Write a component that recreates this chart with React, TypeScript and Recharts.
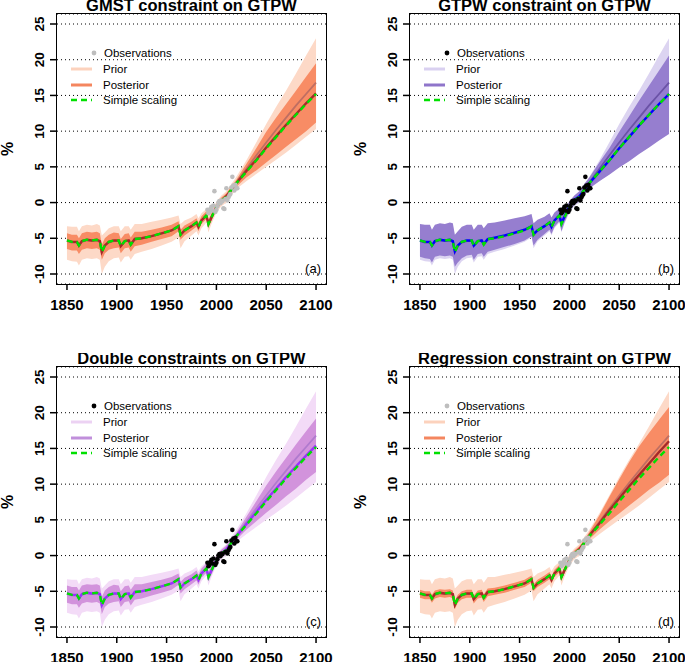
import React from 'react';
import {
  ComposedChart,
  Area,
  Line,
  Scatter,
  XAxis,
  YAxis,
  CartesianGrid,
} from 'recharts';

// sample years of the model curves
const years = [
  1850, 1855, 1860, 1862, 1865, 1870, 1875, 1880, 1883, 1885, 1888, 1892, 1897, 1902, 1904, 1908,
  1912, 1914, 1918, 1925, 1935, 1945, 1955, 1962, 1964, 1968, 1975, 1980, 1982, 1985, 1990, 1992,
  1995, 2000, 2005, 2010, 2015, 2020, 2030, 2040, 2050, 2060, 2070, 2080, 2090, 2100,
];

const simpleScaling = [
  -5.3, -5.5, -5.5, -6.0, -5.4, -5.2, -5.3, -5.2, -5.4, -6.9, -6.0, -5.5, -5.3, -5.3, -6.1, -5.4,
  -5.3, -5.9, -5.1, -5.0, -4.7, -4.3, -3.9, -3.3, -4.5, -3.9, -3.3, -2.8, -3.4, -2.5, -1.8, -3.0,
  -2.1, -0.6, 0.3, 0.8, 1.8, 2.7, 4.3, 5.9, 7.6, 9.2, 10.8, 12.3, 13.8, 15.2,
];

// prior ensemble (same in all panels)
const priorMedian = [
  -5.4, -5.6, -5.6, -6.1, -5.5, -5.3, -5.4, -5.3, -5.5, -7.0, -6.1, -5.6, -5.4, -5.4, -6.1, -5.4,
  -5.4, -5.9, -5.2, -5.0, -4.7, -4.3, -3.9, -3.4, -4.6, -3.9, -3.3, -2.8, -3.4, -2.5, -1.8, -3.0,
  -2.1, -0.6, 0.3, 0.9, 1.9, 2.8, 4.7, 6.6, 8.4, 10.2, 11.9, 13.6, 15.2, 16.8,
];
const priorLow = [
  -8.0, -8.2, -8.3, -8.8, -8.0, -7.8, -7.9, -7.8, -8.0, -10.0, -9.0, -8.2, -7.8, -7.7, -8.4, -7.6,
  -7.5, -8.0, -7.2, -6.9, -6.5, -6.0, -5.5, -4.9, -6.4, -5.4, -4.6, -4.0, -4.6, -3.6, -2.8, -4.2,
  -3.0, -1.4, -0.5, 0.0, 1.0, 1.9, 3.0, 4.0, 5.0, 6.0, 7.0, 8.1, 9.2, 10.3,
];
const priorHigh = [
  -3.3, -3.4, -3.4, -4.0, -3.3, -3.1, -3.2, -3.0, -3.2, -4.6, -4.2, -3.6, -3.3, -3.3, -4.0, -3.3,
  -3.3, -3.8, -3.0, -3.0, -2.7, -2.4, -2.1, -1.8, -3.0, -2.5, -2.1, -1.6, -2.2, -1.5, -0.9, -1.8,
  -1.2, 0.1, 1.0, 1.6, 2.6, 3.6, 5.9, 8.4, 11.0, 13.4, 15.7, 18.1, 20.6, 23.0,
];

// (a) GMST constraint
const postMedA = [
  -5.3, -5.5, -5.5, -6.0, -5.4, -5.2, -5.3, -5.2, -5.4, -6.9, -6.0, -5.5, -5.3, -5.3, -6.1, -5.4,
  -5.3, -5.9, -5.1, -5.0, -4.7, -4.3, -3.9, -3.3, -4.5, -3.9, -3.3, -2.8, -3.4, -2.5, -1.8, -3.0,
  -2.1, -0.6, 0.3, 0.9, 1.8, 2.7, 4.4, 6.0, 7.7, 9.3, 10.9, 12.4, 13.9, 15.3,
];
const postLowA = [
  -6.5, -6.7, -6.7, -7.2, -6.6, -6.4, -6.5, -6.4, -6.6, -8.0, -7.1, -6.6, -6.4, -6.3, -7.1, -6.4,
  -6.3, -6.9, -6.1, -5.9, -5.5, -5.1, -4.7, -4.0, -5.2, -4.6, -3.9, -3.4, -4.0, -3.0, -2.3, -3.5,
  -2.6, -1.0, -0.1, 0.4, 1.4, 2.2, 3.5, 4.5, 5.6, 6.7, 7.8, 8.9, 10.0, 11.2,
];
const postHighA = [
  -4.3, -4.5, -4.5, -5.0, -4.3, -4.1, -4.2, -4.1, -4.3, -5.9, -5.0, -4.5, -4.2, -4.3, -5.1, -4.4,
  -4.3, -4.9, -4.1, -4.1, -3.8, -3.5, -3.1, -2.6, -3.8, -3.2, -2.7, -2.2, -2.8, -1.9, -1.2, -2.4,
  -1.5, -0.2, 0.7, 1.3, 2.3, 3.2, 5.4, 7.6, 9.9, 11.9, 13.8, 15.7, 17.6, 19.5,
];

// (b) GTPW constraint
const postMedB = [
  -5.3, -5.5, -5.5, -6.0, -5.4, -5.2, -5.3, -5.2, -5.4, -6.8, -6.0, -5.5, -5.3, -5.3, -6.0, -5.4,
  -5.3, -5.8, -5.1, -4.9, -4.6, -4.2, -3.8, -3.3, -4.4, -3.9, -3.3, -2.8, -3.4, -2.5, -1.8, -2.9,
  -2.0, -0.5, 0.4, 0.9, 1.8, 2.7, 4.3, 5.9, 7.6, 9.2, 10.8, 12.3, 13.8, 15.2,
];
const postLowB = [
  -7.6, -7.8, -7.9, -8.4, -7.6, -7.4, -7.5, -7.4, -7.6, -9.0, -8.4, -7.8, -7.4, -7.3, -8.0, -7.2,
  -7.1, -7.6, -6.9, -6.6, -6.2, -5.8, -5.3, -4.7, -6.0, -5.2, -4.4, -3.8, -4.4, -3.4, -2.6, -4.0,
  -2.8, -1.2, -0.3, 0.2, 1.1, 2.0, 3.0, 3.9, 4.9, 5.8, 6.8, 7.7, 8.7, 9.6,
];
const postHighB = [
  -3.0, -3.1, -3.1, -3.8, -3.1, -2.9, -3.0, -2.8, -2.9, -4.5, -4.0, -3.4, -3.1, -3.1, -3.8, -3.1,
  -3.1, -3.6, -2.9, -2.8, -2.5, -2.2, -1.9, -1.6, -2.9, -2.4, -2.0, -1.5, -2.1, -1.4, -0.8, -1.7,
  -1.1, 0.2, 1.0, 1.6, 2.6, 3.5, 5.6, 7.6, 9.9, 12.1, 14.3, 16.4, 18.5, 20.6,
];

// (c) double constraints
const postMedC = [
  -5.3, -5.5, -5.5, -6.0, -5.4, -5.2, -5.3, -5.2, -5.4, -6.9, -6.0, -5.5, -5.3, -5.3, -6.1, -5.4,
  -5.3, -5.9, -5.1, -5.0, -4.7, -4.3, -3.9, -3.3, -4.5, -3.9, -3.3, -2.8, -3.4, -2.5, -1.8, -3.0,
  -2.1, -0.6, 0.3, 0.9, 1.8, 2.7, 4.4, 6.1, 7.8, 9.4, 11.0, 12.5, 14.0, 15.4,
];
const postLowC = [
  -6.6, -6.8, -6.8, -7.3, -6.7, -6.5, -6.6, -6.5, -6.7, -8.2, -7.2, -6.7, -6.5, -6.4, -7.2, -6.5,
  -6.4, -7.0, -6.2, -6.0, -5.6, -5.2, -4.8, -4.1, -5.3, -4.7, -4.0, -3.5, -4.1, -3.1, -2.4, -3.6,
  -2.7, -1.1, -0.2, 0.4, 1.3, 2.2, 3.6, 4.8, 6.0, 7.1, 8.3, 9.4, 10.6, 11.7,
];
const postHighC = [
  -4.2, -4.4, -4.4, -4.9, -4.2, -4.0, -4.1, -4.0, -4.2, -5.8, -4.9, -4.4, -4.1, -4.2, -5.0, -4.3,
  -4.2, -4.8, -4.0, -4.0, -3.7, -3.4, -3.0, -2.5, -3.7, -3.1, -2.6, -2.1, -2.7, -1.8, -1.1, -2.3,
  -1.4, -0.1, 0.8, 1.4, 2.3, 3.2, 5.4, 7.6, 9.8, 11.8, 13.7, 15.6, 17.4, 19.2,
];

// (d) regression constraint
const postMedD = [
  -5.3, -5.5, -5.5, -6.0, -5.4, -5.2, -5.3, -5.2, -5.4, -6.9, -6.0, -5.5, -5.3, -5.3, -6.1, -5.4,
  -5.3, -5.9, -5.1, -5.0, -4.7, -4.3, -3.9, -3.3, -4.5, -3.9, -3.3, -2.8, -3.4, -2.5, -1.8, -3.0,
  -2.1, -0.6, 0.3, 0.9, 1.8, 2.8, 4.5, 6.3, 8.0, 9.7, 11.3, 12.9, 14.5, 16.0,
];
const postLowD = [
  -5.9, -6.1, -6.1, -6.6, -6.0, -5.8, -5.9, -5.8, -6.0, -7.5, -6.6, -6.1, -5.9, -5.9, -6.7, -6.0,
  -5.9, -6.5, -5.7, -5.5, -5.2, -4.8, -4.4, -3.8, -5.0, -4.4, -3.8, -3.3, -3.9, -3.0, -2.3, -3.5,
  -2.5, -1.0, -0.1, 0.5, 1.4, 2.3, 3.6, 4.8, 5.9, 7.0, 8.1, 9.2, 10.2, 11.3,
];
const postHighD = [
  -4.8, -5.0, -5.0, -5.5, -4.9, -4.7, -4.8, -4.7, -4.9, -6.3, -5.5, -5.0, -4.8, -4.8, -5.6, -4.9,
  -4.8, -5.4, -4.6, -4.5, -4.2, -3.8, -3.4, -2.8, -4.0, -3.4, -2.8, -2.3, -2.9, -2.0, -1.3, -2.5,
  -1.6, -0.2, 0.7, 1.3, 2.2, 3.3, 5.6, 8.2, 10.7, 13.1, 15.3, 17.2, 19.0, 20.8,
];

// observations
const obsYears = [
  1991, 1992, 1993, 1994, 1995, 1996, 1997, 1998, 1999, 2000, 2001, 2002, 2003, 2004, 2005, 2006,
  2007, 2008, 2009, 2010, 2011, 2012, 2013, 2014, 2015, 2016, 2017, 2018, 2019, 2020, 2021,
];
const obsValues = [
  -1.0, -1.5, -1.3, -0.9, -0.6, -1.1, -0.4, 1.6, -1.3, -1.0, -0.5, 0.0, 0.2, -0.1, 0.3, 0.2,
  -0.8, -0.9, 0.5, 2.0, 0.3, 0.7, 1.0, 1.2, 2.1, 3.6, 2.4, 1.7, 2.5, 2.0, 2.0,
];

const xTicks = [1850, 1900, 1950, 2000, 2050, 2100];
const yTicks = [-10, -5, 0, 5, 10, 15, 20, 25];
const legendLabels = ['Observations', 'Prior', 'Posterior', 'Simple scaling'];

const FONT = '"Liberation Sans", Arial, Helvetica, sans-serif';
const GREEN = '#00e000';

// panel geometry
const W = 342;
const H = 330;
const PL = 57;
const PT = 14;
const PR = 326;
const PB = 284;

const panels = [
  {
    title: 'GMST constraint on GTPW', tag: '(a)', left: 0, top: 0,
    postMed: postMedA, postLow: postLowA, postHigh: postHighA,
    priorFill: '#fdd9c7', postFill: '#f88c65', priorLine: '#bf6e62', postLine: '#a52a2a',
    legPrior: '#fcd2bd', legPost: '#f4865f', obs: '#bebebe',
  },
  {
    title: 'GTPW constraint on GTPW', tag: '(b)', left: 353, top: 0,
    postMed: postMedB, postLow: postLowB, postHigh: postHighB,
    priorFill: '#dcd4f1', postFill: '#967ecf', priorLine: '#6a52a6', postLine: '#0000ff',
    legPrior: '#d9d0f0', legPost: '#8f75ca', obs: '#000000',
  },
  {
    title: 'Double constraints on GTPW', tag: '(c)', left: 0, top: 353,
    postMed: postMedC, postLow: postLowC, postHigh: postHighC,
    priorFill: '#f3dbf7', postFill: '#d293dc', priorLine: '#b07ace', postLine: '#9b30ff',
    legPrior: '#ecd2f3', legPost: '#c08fdb', obs: '#000000',
  },
  {
    title: 'Regression constraint on GTPW', tag: '(d)', left: 353, top: 353,
    postMed: postMedD, postLow: postLowD, postHigh: postHighD,
    priorFill: '#fdd9c7', postFill: '#f88c65', priorLine: '#bf6e62', postLine: '#a52a2a',
    legPrior: '#fcd2bd', legPost: '#f4865f', obs: '#bebebe',
  },
];

const XTick = (props: any) => {
  const { x, y, payload } = props;
  return (
    <g>
      <rect x={x - 0.75} y={PB} width={1.5} height={6} fill="#000" />
      <text x={x} y={y} dy={18} textAnchor="middle" fontFamily={FONT} fontWeight="bold" fontSize={15} fill="#000">
        {payload.value}
      </text>
    </g>
  );
};

const YTick = (props: any) => {
  const { x, y, payload } = props;
  return (
    <g>
      <rect x={PL - 7} y={y - 0.75} width={7} height={1.5} fill="#000" />
      <g transform={`translate(${x - 4},${y}) rotate(-90)`}>
        <text x={0} y={0} textAnchor="middle" fontFamily={FONT} fontWeight="bold" fontSize={13.5} fill="#000">
          {payload.value}
        </text>
      </g>
    </g>
  );
};

function Panel({ cfg }: { cfg: any }) {
  const rows = years.map((year, i) => ({
    year,
    prior: [priorLow[i], priorHigh[i]],
    post: [cfg.postLow[i], cfg.postHigh[i]],
    priorMed: priorMedian[i],
    postMed: cfg.postMed[i],
    simple: simpleScaling[i],
  }));
  const obsRows = obsYears.map((year, i) => ({ year, v: obsValues[i] }));
  const lx = PL + 14;
  const rowY = [PT + 39, PT + 55, PT + 71, PT + 86];

  return (
    <div style={{ position: 'absolute', left: cfg.left, top: cfg.top, width: W, height: H }}>
      <ComposedChart width={W} height={H} data={rows} margin={{ top: PT, right: W - PR, bottom: 16, left: 12 }}>
        <CartesianGrid vertical={false} stroke="#000" strokeDasharray="1 3" />
        <XAxis
          type="number"
          dataKey="year"
          domain={[1840, 2110]}
          ticks={xTicks}
          axisLine={false}
          tickLine={false}
          tickSize={6}
          height={30}
          tick={<XTick />}
          allowDataOverflow
        />
        <YAxis
          type="number"
          domain={[-11.4, 26.4]}
          ticks={yTicks}
          axisLine={false}
          tickLine={false}
          tickSize={7}
          width={45}
          tick={<YTick />}
          allowDataOverflow
        />
        <Area dataKey="prior" type="linear" stroke="none" fill={cfg.priorFill} fillOpacity={1} isAnimationActive={false} dot={false} activeDot={false} />
        <Area dataKey="post" type="linear" stroke="none" fill={cfg.postFill} fillOpacity={1} isAnimationActive={false} dot={false} activeDot={false} />
        <Scatter
          data={obsRows}
          dataKey="v"
          isAnimationActive={false}
          shape={(p: any) => <circle cx={p.cx} cy={p.cy} r={2.3} fill={cfg.obs} />}
        />
        <Line dataKey="priorMed" type="linear" stroke={cfg.priorLine} strokeWidth={1.8} dot={false} activeDot={false} isAnimationActive={false} />
        <Line dataKey="postMed" type="linear" stroke={cfg.postLine} strokeWidth={2.4} dot={false} activeDot={false} isAnimationActive={false} />
        <Line dataKey="simple" type="linear" stroke={GREEN} strokeWidth={2.4} strokeDasharray="6 4" dot={false} activeDot={false} isAnimationActive={false} />
      </ComposedChart>
      {/* plot frame */}
      <div
        style={{
          position: 'absolute',
          left: PL - 0.75,
          top: PT - 0.75,
          width: PR - PL,
          height: PB - PT,
          border: '1.5px solid #000',
          pointerEvents: 'none',
        }}
      />
      <svg width={W} height={H} style={{ position: 'absolute', left: 0, top: 0, pointerEvents: 'none' }}>
        <text x={(PL + PR) / 2} y={PT - 3} textAnchor="middle" fontFamily={FONT} fontWeight="bold" fontSize={16.5}>
          {cfg.title}
        </text>
        <g transform={`translate(${PL - 44.5},${(PT + PB) / 2}) rotate(-90)`}>
          <text textAnchor="middle" fontFamily={FONT} fontWeight="bold" fontSize={16}>%</text>
        </g>
        <text x={PR - 5} y={PB - 11} textAnchor="end" fontFamily={FONT} fontSize={13}>
          {cfg.tag}
        </text>
        <circle cx={PL + 37} cy={rowY[0]} r={2.4} fill={cfg.obs} />
        <line x1={lx} x2={lx + 21} y1={rowY[1]} y2={rowY[1]} stroke={cfg.legPrior} strokeWidth={3} />
        <line x1={lx} x2={lx + 21} y1={rowY[2]} y2={rowY[2]} stroke={cfg.legPost} strokeWidth={3} />
        <line x1={lx} x2={lx + 21} y1={rowY[3]} y2={rowY[3]} stroke={GREEN} strokeWidth={2.4} strokeDasharray="6 4" />
        {legendLabels.map((t, i) => (
          <text key={t} x={i === 0 ? PL + 47 : PL + 46} y={rowY[i]} dy={4} fontFamily={FONT} fontSize={11.5} fill="#000">
            {t}
          </text>
        ))}
      </svg>
    </div>
  );
}

export default function App() {
  return (
    <div style={{ position: 'absolute', left: 0, top: 0, width: 685, height: 662, overflow: 'hidden', background: '#fff' }}>
      {panels.map((cfg) => (
        <Panel key={cfg.tag} cfg={cfg} />
      ))}
    </div>
  );
}
